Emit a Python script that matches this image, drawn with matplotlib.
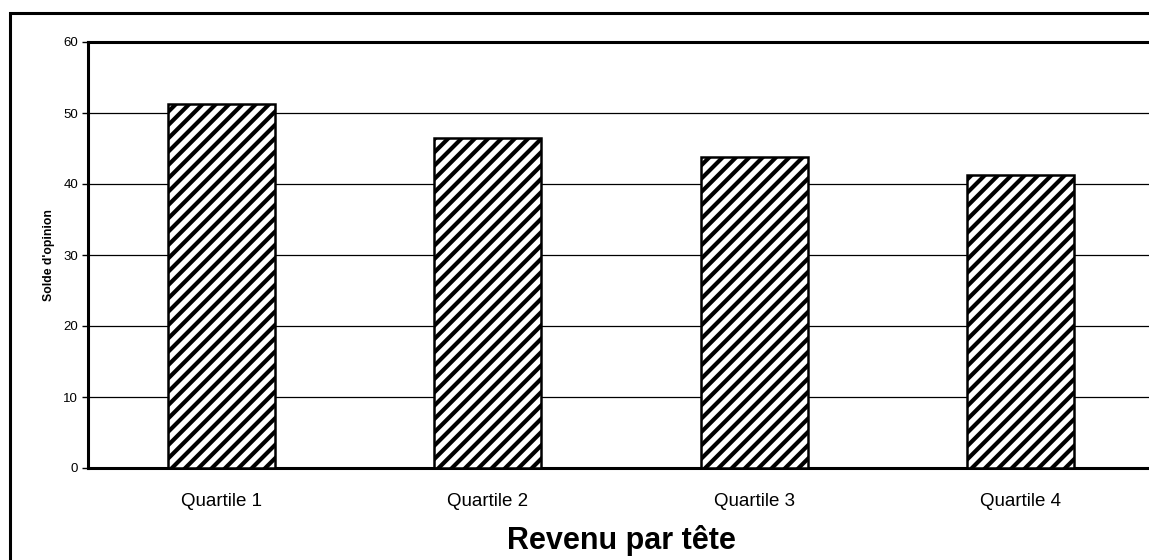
import matplotlib
matplotlib.use("Agg")
import matplotlib.pyplot as plt
from matplotlib.patches import Rectangle

# rendu a 80 dpi pour avoir des hachures plus espacees ; S compense les tailles
DPI = 80
S = 100 / DPI

plt.rcParams['font.family'] = ['Liberation Sans', 'DejaVu Sans']
plt.rcParams['hatch.linewidth'] = 3.0 * S

# donnees
categories = ['Quartile 1', 'Quartile 2', 'Quartile 3', 'Quartile 4']
solde = [51.3, 46.5, 43.8, 41.3]
yticks = [0, 10, 20, 30, 40, 50, 60]

W, H = 1149, 560
fig = plt.figure(figsize=(W / DPI, H / DPI), dpi=DPI)

# cadre exterieur (coupe a droite et en bas)
fig.patches.append(Rectangle((10 / W, -0.05), 1.2, (H - 13) / H + 0.05,
                             transform=fig.transFigure, fill=False,
                             edgecolor='black', linewidth=2.2 * S, clip_on=False))

ax = fig.add_axes([88 / W, (H - 468) / H, (1154 - 88) / W, (468 - 42) / H])

x = range(len(categories))
ax.bar(x, solde, width=0.4, color='white', edgecolor='black',
       linewidth=1.8 * S, hatch='//', zorder=3)

ax.set_xlim(-0.5, len(categories) - 0.5)
ax.set_ylim(0, 60)
ax.set_yticks(yticks)
ax.set_xticks(list(x))
ax.set_xticklabels(categories, fontsize=13.5 * S)
ax.tick_params(axis='x', length=0, pad=18 * S)
ax.tick_params(axis='y', length=4 * S, width=1 * S, labelsize=9.5 * S, pad=3 * S)

for v in yticks[1:-1]:
    ax.axhline(v, color='black', linewidth=0.9 * S, zorder=1)

for side in ['left', 'bottom', 'top']:
    ax.spines[side].set_linewidth(2.2 * S)
ax.spines['right'].set_visible(False)

ax.set_ylabel("Solde d'opinion", fontsize=8.8 * S, fontweight='bold', labelpad=6 * S)
ax.set_xlabel('Revenu par tête', fontsize=22 * S, fontweight='bold', labelpad=11 * S)

fig.savefig('out.png', dpi=DPI)
